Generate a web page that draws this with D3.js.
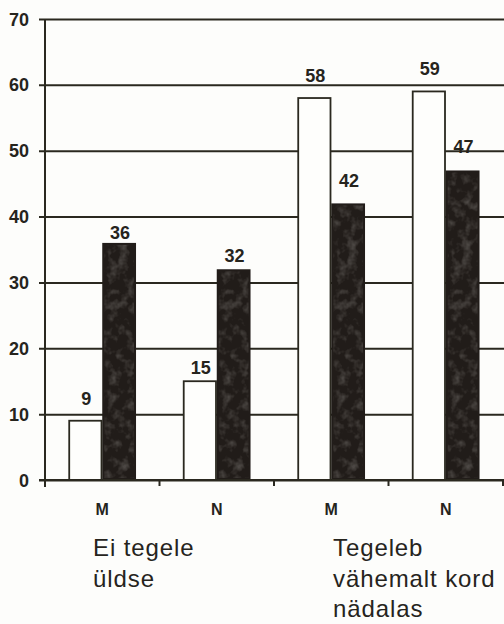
<!DOCTYPE html>
<html>
<head>
<meta charset="utf-8">
<script src="https://cdn.jsdelivr.net/npm/d3@7/dist/d3.min.js"></script>
<style>
  html, body { margin: 0; padding: 0; background: #fdfdfb; }
  svg { display: block; }
  text { font-family: "Liberation Sans", Arial, sans-serif; fill: #26241d; }
</style>
</head>
<body>
<svg id="chart" width="504" height="624"></svg>
<script>
// Share of respondents (%) by sex within two activity groups
const groups = [["Ei tegele", "üldse"], ["Tegeleb", "vähemalt kord", "nädalas"]];
const categories = ["M", "N", "M", "N"];
const categoryGroup = [0, 0, 1, 1];
const seriesLight = [9, 15, 58, 59];
const seriesDark = [36, 32, 42, 47];
const yTicks = [0, 10, 20, 30, 40, 50, 60, 70];

const ink = "#2a281f";
const darkFill = "#211c19";

const svg = d3.select("#chart");
const W = 504, H = 624;
const plot = { left: 45, right: 503, top: 19, bottom: 480 };

const y = d3.scaleLinear().domain([0, 70]).range([plot.bottom, plot.top]);
const x = d3.scaleBand()
  .domain(d3.range(categories.length))
  .range([plot.left, plot.right])
  .paddingInner(0.41)
  .paddingOuter(0.205);
const series = d3.scaleBand().domain(["light", "dark"]).range([0, x.bandwidth()]);

// soft mottling for the dark bars
const defs = svg.append("defs");
const grain = defs.append("filter").attr("id", "grain").attr("x", 0).attr("y", 0).attr("width", 1).attr("height", 1);
grain.append("feTurbulence").attr("type", "fractalNoise").attr("baseFrequency", 0.1).attr("numOctaves", 3).attr("seed", 7).attr("result", "n");
grain.append("feColorMatrix").attr("in", "n").attr("type", "matrix")
  .attr("values", "0 0 0 0 0.5  0 0 0 0 0.48  0 0 0 0 0.45  0 0 0 -2.6 1.4").attr("result", "c");
grain.append("feComposite").attr("in", "c").attr("in2", "SourceGraphic").attr("operator", "in");

// gridlines with y tick marks
const yAxis = d3.axisLeft(y).tickValues(yTicks).tickSizeOuter(0).tickPadding(10);
const gy = svg.append("g").attr("transform", `translate(${plot.left},0)`).call(yAxis);
gy.select(".domain").remove();
gy.selectAll(".tick line").attr("x1", -6).attr("x2", W - plot.left + 2).attr("stroke", ink).attr("stroke-width", 2);
gy.selectAll(".tick text").attr("font-size", 18).attr("font-weight", "bold").attr("fill", ink)
  .attr("font-family", "Liberation Sans, Arial, sans-serif").attr("dy", "0.34em");

// bars
const cols = svg.append("g").selectAll("g").data(categories).join("g")
  .attr("transform", (d, i) => `translate(${x(i)},0)`);

cols.append("rect")
  .attr("x", series("light") + 0.75)
  .attr("y", (d, i) => y(seriesLight[i]))
  .attr("width", series.bandwidth() - 1.5)
  .attr("height", (d, i) => y(0) - y(seriesLight[i]))
  .attr("fill", "#fefefc").attr("stroke", ink).attr("stroke-width", 1.8);

cols.append("rect")
  .attr("x", series("dark"))
  .attr("y", (d, i) => y(seriesDark[i]))
  .attr("width", series.bandwidth())
  .attr("height", (d, i) => y(0) - y(seriesDark[i]))
  .attr("fill", darkFill);

cols.append("rect")
  .attr("x", series("dark") + 2)
  .attr("y", (d, i) => y(seriesDark[i]) + 2)
  .attr("width", series.bandwidth() - 4)
  .attr("height", (d, i) => y(0) - y(seriesDark[i]) - 4)
  .attr("fill", "#000").attr("filter", "url(#grain)").attr("opacity", 0.28);

// value labels: distance above each bar top
const gapLight = [16, 7, 16, 16];
const gapDark = [4, 7, 16, 17];
cols.append("text")
  .attr("x", series("light") + series.bandwidth() / 2 + 1)
  .attr("y", (d, i) => y(seriesLight[i]) - gapLight[i])
  .attr("text-anchor", "middle").attr("font-size", 18).attr("font-weight", "bold")
  .text((d, i) => seriesLight[i]);
cols.append("text")
  .attr("x", series("dark") + series.bandwidth() / 2 + 1)
  .attr("y", (d, i) => y(seriesDark[i]) - gapDark[i])
  .attr("text-anchor", "middle").attr("font-size", 18).attr("font-weight", "bold")
  .text((d, i) => seriesDark[i]);

// axis lines
svg.append("line").attr("x1", plot.left).attr("x2", plot.left).attr("y1", plot.top).attr("y2", plot.bottom + 7)
  .attr("stroke", ink).attr("stroke-width", 2);
svg.append("line").attr("x1", plot.left - 6).attr("x2", W).attr("y1", plot.bottom).attr("y2", plot.bottom)
  .attr("stroke", ink).attr("stroke-width", 2);
// category boundary ticks
svg.append("g").selectAll("line").data(d3.range(1, categories.length + 1)).join("line")
  .attr("x1", i => plot.left + x.step() * i).attr("x2", i => plot.left + x.step() * i)
  .attr("y1", plot.bottom).attr("y2", plot.bottom + 6)
  .attr("stroke", ink).attr("stroke-width", 2);

// category labels
svg.append("g").selectAll("text").data(categories).join("text")
  .attr("x", (d, i) => x(i) + x.bandwidth() / 2)
  .attr("y", 515)
  .attr("text-anchor", "middle").attr("font-size", 16).attr("font-weight", "bold")
  .text(d => d);

// group labels
const groupStart = groups.map((g, gi) => plot.left + x.step() * categoryGroup.indexOf(gi));
const groupIndent = [48, 59];
svg.append("g").selectAll("text").data(groups).join("text")
  .attr("x", (d, gi) => groupStart[gi] + groupIndent[gi])
  .attr("y", 556)
  .attr("font-size", 24)
  .attr("letter-spacing", 0.9)
  .selectAll("tspan").data(d => d).join("tspan")
  .attr("x", function () { return d3.select(this.parentNode).attr("x"); })
  .attr("dy", (d, j) => j === 0 ? 0 : 30.5)
  .text(d => d);
</script>
</body>
</html>
